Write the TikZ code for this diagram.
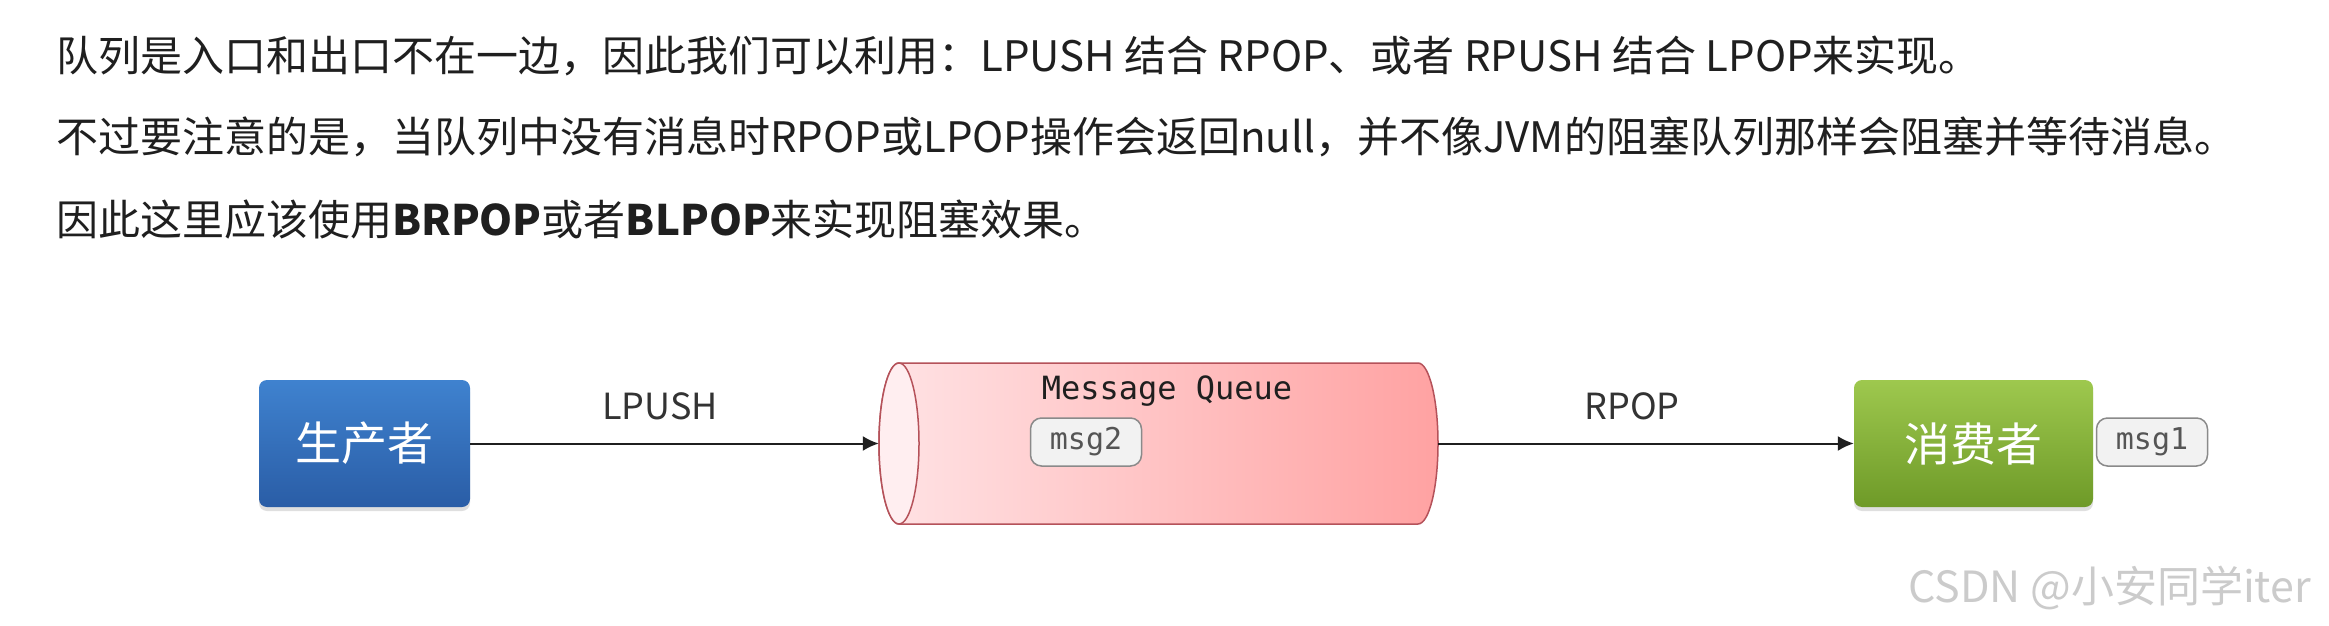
\documentclass[tikz,border=0pt]{standalone}
\usepackage{fontspec}
\setmainfont{Noto Sans CJK SC}
\newfontfamily\monof{DejaVu Sans Mono}
\usetikzlibrary{arrows.meta,shadows}
\definecolor{txt}{HTML}{1F1F1F}
\definecolor{lblc}{HTML}{333333}
\definecolor{pTop}{HTML}{3F82CF}
\definecolor{pBot}{HTML}{2A5DA6}
\definecolor{cTop}{HTML}{9EC84E}
\definecolor{cBot}{HTML}{6E9A28}
\definecolor{qL}{HTML}{FFE3E5}
\definecolor{qR}{HTML}{FFA2A2}
\definecolor{qE}{HTML}{FFEEF0}
\definecolor{qB}{HTML}{B5525A}
\definecolor{msgF}{HTML}{F2F2F2}
\definecolor{msgB}{HTML}{8A8A8A}
\definecolor{msgT}{HTML}{555555}
\definecolor{wm}{HTML}{CBCBCB}
\begin{document}
\begin{tikzpicture}[x=1pt,y=-1pt,
  body/.style={anchor=west, inner sep=0pt, text=txt, font=\fontsize{42}{48}\selectfont},
  actor/.style={rounded corners=8pt, minimum height=127pt, inner sep=0pt, text=white,
     font=\fontsize{46}{52}\selectfont, drop shadow={opacity=0.25, shadow xshift=0pt, shadow yshift=-4pt}},
  msgbox/.style={rounded corners=11pt, fill=msgF, draw=msgB, line width=1.5pt, minimum width=111pt,
     minimum height=48pt, inner sep=0pt, text=msgT, font=\monof\fontsize{30}{34}\selectfont},
  lbl/.style={text=lblc, inner sep=0pt, font=\fontsize{36}{40}\selectfont},
  arr/.style={-{Latex[length=16pt,width=15pt]}, line width=2pt, draw=txt}]
\clip (0,0) rectangle (2329,626);
\fill[white] (0,0) rectangle (2329,626);
% text lines
\node[body] (l1) at (56,56) {队列是入口和出口不在一边，因此我们可以利用：LPUSH 结合 RPOP、或者 RPUSH 结合 LPOP来实现。};
\node[body] (l2) at (56,137) {不过要注意的是，当队列中没有消息时RPOP或LPOP操作会返回null，并不像JVM的阻塞队列那样会阻塞并等待消息。};
\node[body] (l3) at (56,220) {因此这里应该使用\textbf{BRPOP}或者\textbf{BLPOP}来实现阻塞效果。};
% producer
\node[actor, top color=pTop, bottom color=pBot, minimum width=211pt] (p) at (364.5,443.5) {生产者};
% queue
\node[minimum width=559pt, minimum height=161pt, inner sep=0pt] (q) at (1158.5,443.5) {};
\shade[left color=qL, right color=qR, draw=qB, line width=1.5pt]
  (899,363) -- (1418,363) arc[start angle=-90, end angle=90, x radius=20, y radius=80.5]
  -- (899,524) arc[start angle=90, end angle=270, x radius=20, y radius=80.5] -- cycle;
\filldraw[fill=qE, draw=qB, line width=1.5pt] (899,443.5) ellipse[x radius=20, y radius=80.5];
\node[inner sep=0pt, text=txt, font=\monof\fontsize{32}{36}\selectfont] (mq) at (1167,391) {Message Queue};
\node[msgbox] (m2) at (1086,442) {msg2};
% consumer
\node[actor, top color=cTop, bottom color=cBot, minimum width=239pt] (c) at (1973.5,443.5) {消费者};
\node[msgbox] (m1) at (2152,442) {msg1};
% arrows
\draw[arr] (p) -- (q.west);
\draw[arr] (q.east) -- (c);
\node[lbl] (lp) at (660,406) {LPUSH};
\node[lbl] (rp) at (1632,406) {RPOP};
% watermark
\node[anchor=west, inner sep=0pt, text=wm, font=\fontsize{43}{48}\selectfont] (wmk) at (1908,588) {CSDN @小安同学iter};
\end{tikzpicture}
\end{document}
